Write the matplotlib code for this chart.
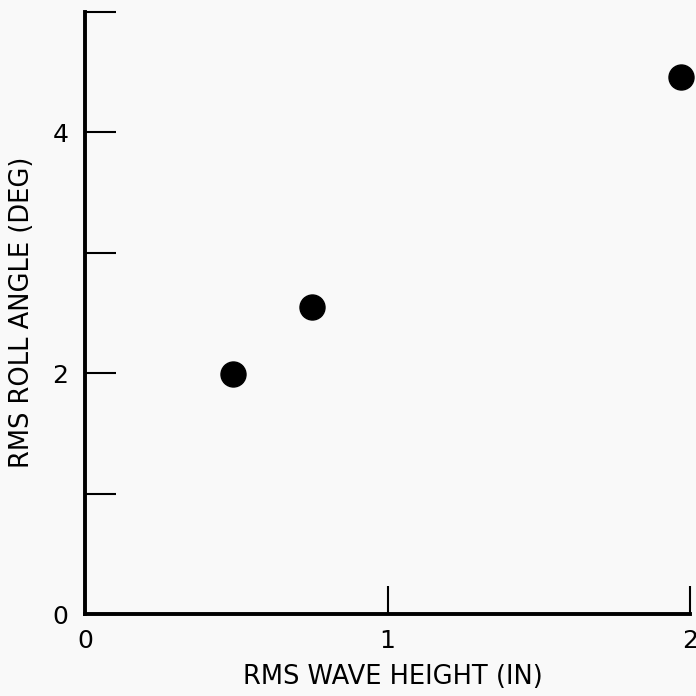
import matplotlib
matplotlib.use("Agg")
import matplotlib.pyplot as plt

# data
wave_height = [0.49, 0.75, 1.97]
roll_angle = [1.99, 2.55, 4.46]
x_ticks = [0, 1, 2]
x_tick_labels = ["0", "1", "2"]
y_ticks = [0, 1, 2, 3, 4, 5]
y_tick_labels = ["0", "", "2", "", "4", ""]

W = H = 696
fig = plt.figure(figsize=(6.96, 6.96), dpi=100, facecolor="#f9f9f9")
ax = fig.add_axes([85 / W, 1 - 614 / H, 605 / W, 602 / H])
ax.set_facecolor("none")

ax.plot(wave_height, roll_angle, "o", color="black", markersize=18, clip_on=False)

ax.set_xlim(0, 2)
ax.set_ylim(0, 5)
for s in ["top", "right"]:
    ax.spines[s].set_visible(False)
for s in ["left", "bottom"]:
    ax.spines[s].set_linewidth(2.8)
    ax.spines[s].set_capstyle("projecting")

ax.set_xticks(x_ticks)
ax.set_xticklabels(x_tick_labels)
ax.set_yticks(y_ticks)
ax.set_yticklabels(y_tick_labels)
ax.tick_params(axis="y", direction="in", length=22, width=1.5, pad=12, labelsize=18)
ax.tick_params(axis="x", direction="in", length=20, width=1.5, pad=11, labelsize=18)

fig.text(393 / W, 1 - 677 / H, "RMS WAVE HEIGHT (IN)", ha="center", va="center", fontsize=18.5)
fig.text(22 / W, 1 - 312 / H, "RMS ROLL ANGLE (DEG)", ha="center", va="center",
         rotation=90, fontsize=18.5)

fig.savefig("out.png", dpi=100, facecolor=fig.get_facecolor())
